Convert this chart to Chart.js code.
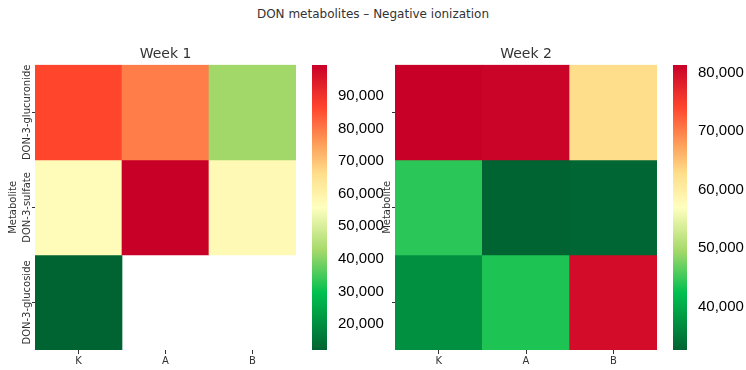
<!DOCTYPE html>
<html>
<head>
<meta charset="utf-8">
<script src="https://cdn.jsdelivr.net/npm/chart.js@4.4.1/dist/chart.umd.min.js"></script>
<style>
  body { margin: 0; background: #fff; }
  #wrap { position: relative; width: 746px; height: 370px; overflow: hidden; }
  #wrap canvas { position: absolute; top: 0; }
  #suptitle { position: absolute; top: 6px; left: 0; width: 746px; text-align: center;
              font: 12px "DejaVu Sans"; line-height: 16px; color: #333; }
</style>
</head>
<body>
<div id="wrap">
  <div id="suptitle">DON metabolites – Negative ionization</div>
  <canvas id="hm1" width="300" height="370" style="left:0"></canvas>
  <canvas id="cb1" width="90" height="370" style="left:300px"></canvas>
  <canvas id="hm2" width="300" height="370" style="left:360px"></canvas>
  <canvas id="cb2" width="86" height="370" style="left:660px"></canvas>
</div>
<script>
  // columns (x) and metabolites (rows, top to bottom)
  const columns = ['K', 'A', 'B'];
  const metabolites = ['DON-3-glucuronide', 'DON-3-sulfate', 'DON-3-glucoside'];

  const week1Values = [
    [86400, 79400, 42300],
    [56800, 99500, 57600],
    [12000, null, null]
  ];
  const week2Values = [
    [81300, 81000, 62800],
    [44200, 32600, 32800],
    [37300, 43600, 80000]
  ];

  const week1Ticks = [20000, 30000, 40000, 50000, 60000, 70000, 80000, 90000];
  const week2Ticks = [40000, 50000, 60000, 70000, 80000];

  // green -> yellow -> red colormap
  const cmapPos = [0, 0.2, 0.35, 0.5, 0.62, 0.72, 0.85, 1];
  const cmapCol = [
    [0, 100, 50], [0, 192, 80], [166, 217, 106], [255, 255, 191],
    [254, 222, 138], [253, 160, 90], [255, 70, 45], [200, 0, 40]
  ];

  function rgb(c) {
    return 'rgb(' + c.map(Math.round).join(',') + ')';
  }

  function cmap(t) {
    t = Math.max(0, Math.min(1, t));
    for (let i = 1; i < cmapPos.length; i++) {
      if (t <= cmapPos[i]) {
        const f = (t - cmapPos[i - 1]) / (cmapPos[i] - cmapPos[i - 1]);
        const a = cmapCol[i - 1], b = cmapCol[i];
        return rgb(a.map((v, k) => v + (b[k] - v) * f));
      }
    }
    return rgb(cmapCol[cmapCol.length - 1]);
  }

  function range(values) {
    const flat = values.flat().filter(v => v != null);
    return [Math.min(...flat), Math.max(...flat)];
  }

  // draws the rotated row names next to the y axis
  const rowLabels = {
    id: 'rowLabels',
    afterDraw(chart, args, opts) {
      if (!opts.labels) return;
      const ctx = chart.ctx;
      const y = chart.scales.y;
      const n = opts.labels.length;
      ctx.save();
      ctx.font = '10px "DejaVu Sans"';
      ctx.fillStyle = '#333';
      ctx.textAlign = 'center';
      ctx.textBaseline = 'middle';
      opts.labels.forEach((lab, r) => {
        ctx.save();
        ctx.translate(opts.x, y.getPixelForValue(n - r - 0.5));
        ctx.rotate(-Math.PI / 2);
        ctx.fillText(lab, 0, 0);
        ctx.restore();
      });
      ctx.restore();
    }
  };

  function makeHeatmap(id, title, values, showRowLabels, titlePad, rightPad) {
    const [vmin, vmax] = range(values);
    const n = metabolites.length;
    const datasets = metabolites.map((m, r) => ({
      label: m,
      data: values[r].map(v => v == null ? null : [n - r - 1, n - r]),
      backgroundColor: values[r].map(v => v == null ? 'rgba(0,0,0,0)' : cmap((v - vmin) / (vmax - vmin))),
      borderWidth: 0,
      barPercentage: 1,
      categoryPercentage: 1,
      grouped: false
    }));

    new Chart(document.getElementById(id), {
      type: 'bar',
      data: { labels: columns, datasets: datasets },
      plugins: [rowLabels],
      options: {
        responsive: false,
        animation: false,
        layout: { padding: { left: 0, right: rightPad, top: 0, bottom: 0 } },
        plugins: {
          legend: { display: false },
          tooltip: { enabled: false },
          title: {
            display: true,
            text: title,
            fullSize: false,
            color: '#333',
            font: { family: 'DejaVu Sans', size: 14, weight: 'normal' },
            padding: { top: 46, bottom: 2 }
          },
          rowLabels: { labels: showRowLabels ? metabolites : null, x: 27 }
        },
        scales: {
          x: {
            type: 'category',
            offset: true,
            border: { display: false },
            grid: { drawOnChartArea: false, offset: false, tickLength: 4, color: '#333' },
            ticks: { color: '#333', font: { family: 'DejaVu Sans', size: 10 }, padding: 1 },
            afterFit: s => { s.height = 20; }
          },
          y: {
            type: 'linear',
            min: 0,
            max: n,
            border: { display: false },
            grid: { drawOnChartArea: false, tickLength: 3, color: '#333' },
            ticks: { display: false },
            afterBuildTicks: s => { s.ticks = [0.5, 1.5, 2.5].map(v => ({ value: v })); },
            title: {
              display: true,
              text: 'Metabolite',
              color: '#333',
              font: { family: 'DejaVu Sans', size: 10 },
              padding: { top: titlePad, bottom: 0 }
            },
            afterFit: s => { s.width = 35; }
          }
        }
      }
    });
  }

  function makeColorbar(id, values, tickValues, leftPad, axisWidth) {
    const [vmin, vmax] = range(values);
    new Chart(document.getElementById(id), {
      type: 'bar',
      data: {
        labels: [''],
        datasets: [{
          data: [[vmin, vmax]],
          borderWidth: 0,
          barPercentage: 1,
          categoryPercentage: 1,
          backgroundColor: ctx => {
            const chart = ctx.chart;
            if (!chart.chartArea) return null;
            const y = chart.scales.y;
            const g = chart.ctx.createLinearGradient(0, y.getPixelForValue(vmin), 0, y.getPixelForValue(vmax));
            cmapPos.forEach((p, i) => g.addColorStop(p, rgb(cmapCol[i])));
            return g;
          }
        }]
      },
      options: {
        responsive: false,
        animation: false,
        layout: { padding: { left: leftPad, right: 0, top: 65, bottom: 20 } },
        plugins: { legend: { display: false }, tooltip: { enabled: false } },
        scales: {
          x: { display: false },
          y: {
            position: 'right',
            min: vmin,
            max: vmax,
            border: { display: false },
            grid: { display: false },
            afterBuildTicks: s => { s.ticks = tickValues.map(v => ({ value: v })); },
            ticks: {
              color: '#000',
              padding: 3,
              font: { family: 'Liberation Sans', size: 15 },
              callback: v => v.toLocaleString('en-US')
            },
            afterFit: s => { s.width = axisWidth; }
          }
        }
      }
    });
  }

  makeHeatmap('hm1', 'Week 1', week1Values, true, 7, 4);
  makeColorbar('cb1', week1Values, week1Ticks, 12, 63);
  makeHeatmap('hm2', 'Week 2', week2Values, false, 21, 3);
  makeColorbar('cb2', week2Values, week2Ticks, 13, 59);
</script>
</body>
</html>
